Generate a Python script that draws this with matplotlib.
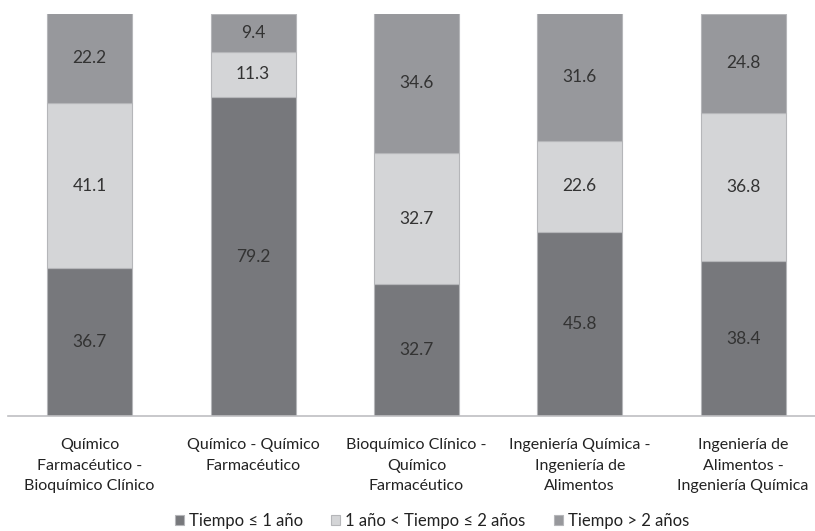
import matplotlib.pyplot as plt
import numpy as np

plt.rcParams['font.family'] = ['Lato', 'DejaVu Sans']

categorias = ['Químico\nFarmacéutico -\nBioquímico Clínico',
              'Químico - Químico\nFarmacéutico',
              'Bioquímico Clínico -\nQuímico\nFarmacéutico',
              'Ingeniería Química -\nIngeniería de\nAlimentos',
              'Ingeniería de\nAlimentos -\nIngeniería Química']
menos_1 = [36.7, 79.2, 32.7, 45.8, 38.4]
entre_1_2 = [41.1, 11.3, 32.7, 22.6, 36.8]
mas_2 = [22.2, 9.4, 34.6, 31.6, 24.8]
series_labels = ['Tiempo ≤ 1 año', '1 año < Tiempo ≤ 2 años', 'Tiempo > 2 años']
colores = ['#77787c', '#d4d5d7', '#97989c']

fig = plt.figure(figsize=(8.15, 5.31), dpi=100)
ax = fig.add_axes([8 / 815, 1 - 416 / 531, 1 - 8 / 815, (416 - 13.5) / 531])

x = np.arange(len(categorias))
ancho = 0.52
abajo = np.zeros(len(categorias))
for vals, col, lab in zip([menos_1, entre_1_2, mas_2], colores, series_labels):
    ax.bar(x, vals, ancho, bottom=abajo, color=col, edgecolor='#b5b6b9',
           linewidth=0.8, label=lab)
    for xi, v, b in zip(x, vals, abajo):
        ax.text(xi, b + v / 2, f'{v:.1f}', ha='center', va='center',
                fontsize=12.5, color='#333333')
    abajo += np.array(vals)

ax.set_xlim(-0.5, 4.44)
ax.set_ylim(0, 100)
ax.set_xticks(x)
ax.set_xticklabels(categorias, fontsize=11.5, color='#222222', linespacing=1.6)
ax.tick_params(axis='x', length=0, pad=16)
ax.set_yticks([])
for s in ['top', 'right', 'left']:
    ax.spines[s].set_visible(False)
ax.spines['bottom'].set_color('#bfbfc2')
ax.spines['bottom'].set_linewidth(1.2)

fig.legend(loc='lower center', bbox_to_anchor=(0.53, -0.025), ncol=3, frameon=False,
           fontsize=12, handlelength=0.55, handleheight=0.55, handletextpad=0.3,
           columnspacing=1.7, labelcolor='#222222')

fig.savefig('out.png', dpi=100)
